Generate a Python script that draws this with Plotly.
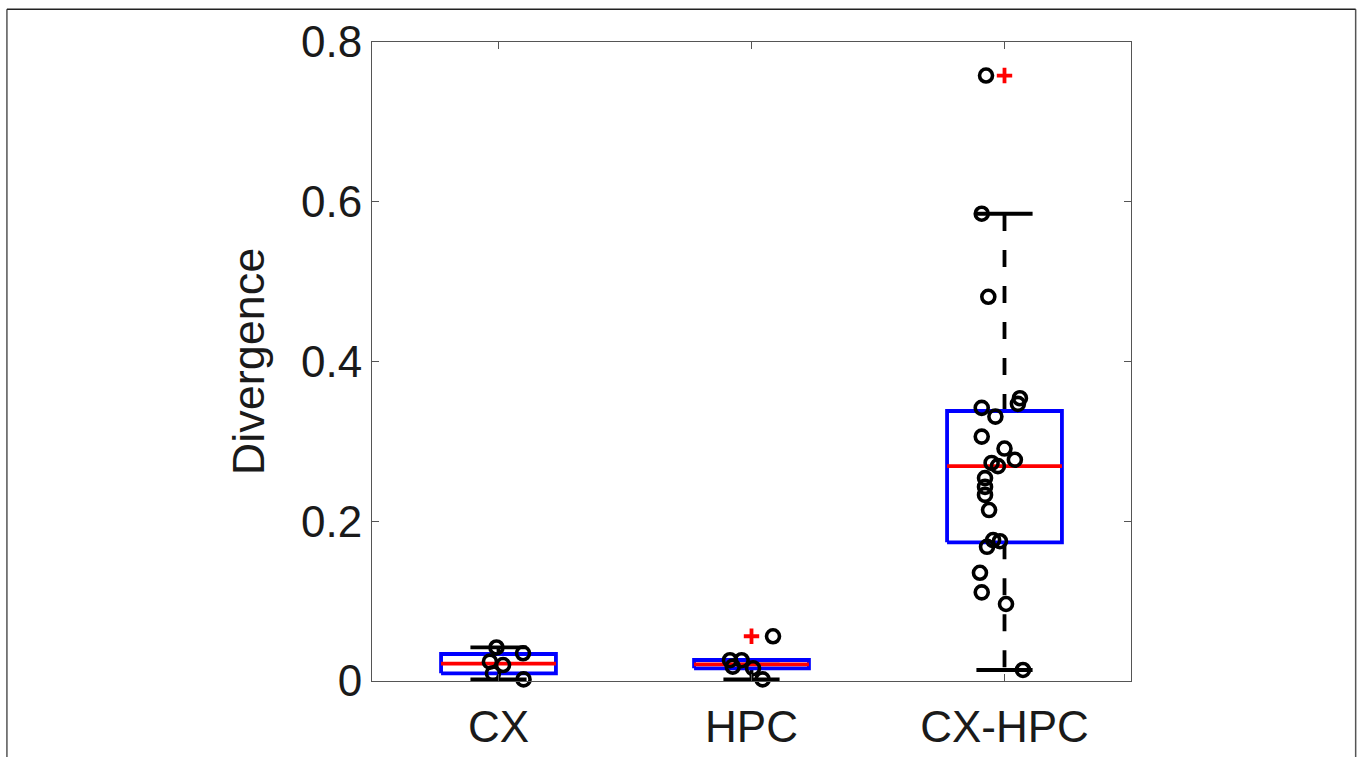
import plotly.graph_objects as go

# ---- data ----
categories = ["CX", "HPC", "CX-HPC"]
positions = [1, 2, 3]

# box statistics per group
q1 = [0.0096, 0.0159, 0.1736]
median = [0.0217, 0.0209, 0.269]
q3 = [0.0338, 0.0263, 0.338]
whisker_low = [0.002, 0.002, 0.0138]
whisker_high = [0.042, 0.026, 0.585]
outliers = [[], [0.056], [0.758]]

# individual points (values and horizontal jitter)
cx_values = [0.042, 0.0347, 0.0242, 0.020, 0.0096, 0.002]
cx_jitter = [-0.008, 0.097, -0.034, 0.018, -0.022, 0.099]

hpc_values = [0.026, 0.026, 0.018, 0.016, 0.002, 0.056]
hpc_jitter = [-0.085, -0.039, -0.074, 0.006, 0.044, 0.085]

cxhpc_values = [0.758, 0.585, 0.481, 0.354, 0.347, 0.342, 0.331, 0.306, 0.291,
                0.277, 0.273, 0.269, 0.254, 0.243, 0.233, 0.214, 0.1765, 0.175,
                0.168, 0.1355, 0.111, 0.0964, 0.0138]
cxhpc_jitter = [-0.073, -0.090, -0.064, 0.061, 0.053, -0.090, -0.036, -0.090, 0.000,
                0.041, -0.051, -0.026, -0.077, -0.077, -0.077, -0.061, -0.045, -0.018,
                -0.069, -0.097, -0.090, 0.006, 0.073]

point_values = [cx_values, hpc_values, cxhpc_values]
point_jitter = [cx_jitter, hpc_jitter, cxhpc_jitter]

# ---- style ----
BOX_HALF = 0.227
CAP_HALF = 0.111
LW = 3.8
FONT = "Liberation Sans, Arial, sans-serif"
TXT = "#1a1a1a"

fig = go.Figure()

# whiskers (dashed) and caps
for i, c in enumerate(positions):
    fig.add_trace(go.Scatter(
        x=[c, c, None, c, c],
        y=[q3[i], whisker_high[i], None, q1[i], whisker_low[i]],
        mode="lines", line=dict(color="black", width=LW, dash="17px,19px"),
        showlegend=False, hoverinfo="skip", cliponaxis=False))
    fig.add_trace(go.Scatter(
        x=[c - CAP_HALF, c + CAP_HALF, None, c - CAP_HALF, c + CAP_HALF],
        y=[whisker_high[i], whisker_high[i], None, whisker_low[i], whisker_low[i]],
        mode="lines", line=dict(color="black", width=LW),
        showlegend=False, hoverinfo="skip", cliponaxis=False))

# boxes
for i, c in enumerate(positions):
    fig.add_trace(go.Scatter(
        x=[c - BOX_HALF, c + BOX_HALF, c + BOX_HALF, c - BOX_HALF, c - BOX_HALF],
        y=[q1[i], q1[i], q3[i], q3[i], q1[i]],
        mode="lines", line=dict(color="#0000ff", width=LW),
        showlegend=False, hoverinfo="skip", cliponaxis=False))
    fig.add_trace(go.Scatter(
        x=[c - BOX_HALF, c + BOX_HALF], y=[median[i], median[i]],
        mode="lines", line=dict(color="#ff0000", width=LW),
        showlegend=False, hoverinfo="skip", cliponaxis=False))

# outliers
for i, c in enumerate(positions):
    if outliers[i]:
        fig.add_trace(go.Scatter(
            x=[c] * len(outliers[i]), y=outliers[i], mode="markers",
            marker=dict(symbol="cross-thin", size=11, color="#ff0000",
                        line=dict(color="#ff0000", width=3.8)),
            showlegend=False, hoverinfo="skip", cliponaxis=False))

# individual points
for i, c in enumerate(positions):
    fig.add_trace(go.Scatter(
        x=[c + j for j in point_jitter[i]], y=point_values[i], mode="markers",
        marker=dict(symbol="circle-open", size=13, color="black",
                    line=dict(color="black", width=3.6)),
        showlegend=False, hoverinfo="skip", cliponaxis=False))

# outer frame
frame = dict(color="#555555", width=1.5)
fig.add_shape(type="line", xref="paper", yref="paper", x0=-0.481, x1=-0.481, y0=1.0512, y1=-0.2, line=frame)
fig.add_shape(type="line", xref="paper", yref="paper", x0=1.296, x1=1.296, y0=1.0512, y1=-0.2, line=frame)
fig.add_shape(type="line", xref="paper", yref="paper", x0=-0.481, x1=1.296, y0=1.0512, y1=1.0512,
              line=dict(color="#222222", width=1.5))

axis_common = dict(showline=True, linecolor="#555555", linewidth=1, mirror="ticks",
                   ticks="inside", tickcolor="#555555", tickwidth=1, ticklen=7,
                   showgrid=False, zeroline=False, automargin=False,
                   tickfont=dict(family=FONT, size=44, color=TXT))

fig.update_layout(
    width=1360, height=757,
    margin=dict(l=372, r=229, t=42, b=76),
    paper_bgcolor="white", plot_bgcolor="white",
    xaxis=dict(range=[0.5, 3.5], tickvals=positions, ticktext=categories,
               ticklabelstandoff=7, **axis_common),
    yaxis=dict(range=[0, 0.8], tickvals=[0, 0.2, 0.4, 0.6, 0.8],
               ticktext=["0", "0.2", "0.4", "0.6", "0.8"],
               title=dict(text="Divergence", font=dict(family=FONT, size=45, color=TXT), standoff=22),
               **axis_common),
)

fig.write_html("out.html")
